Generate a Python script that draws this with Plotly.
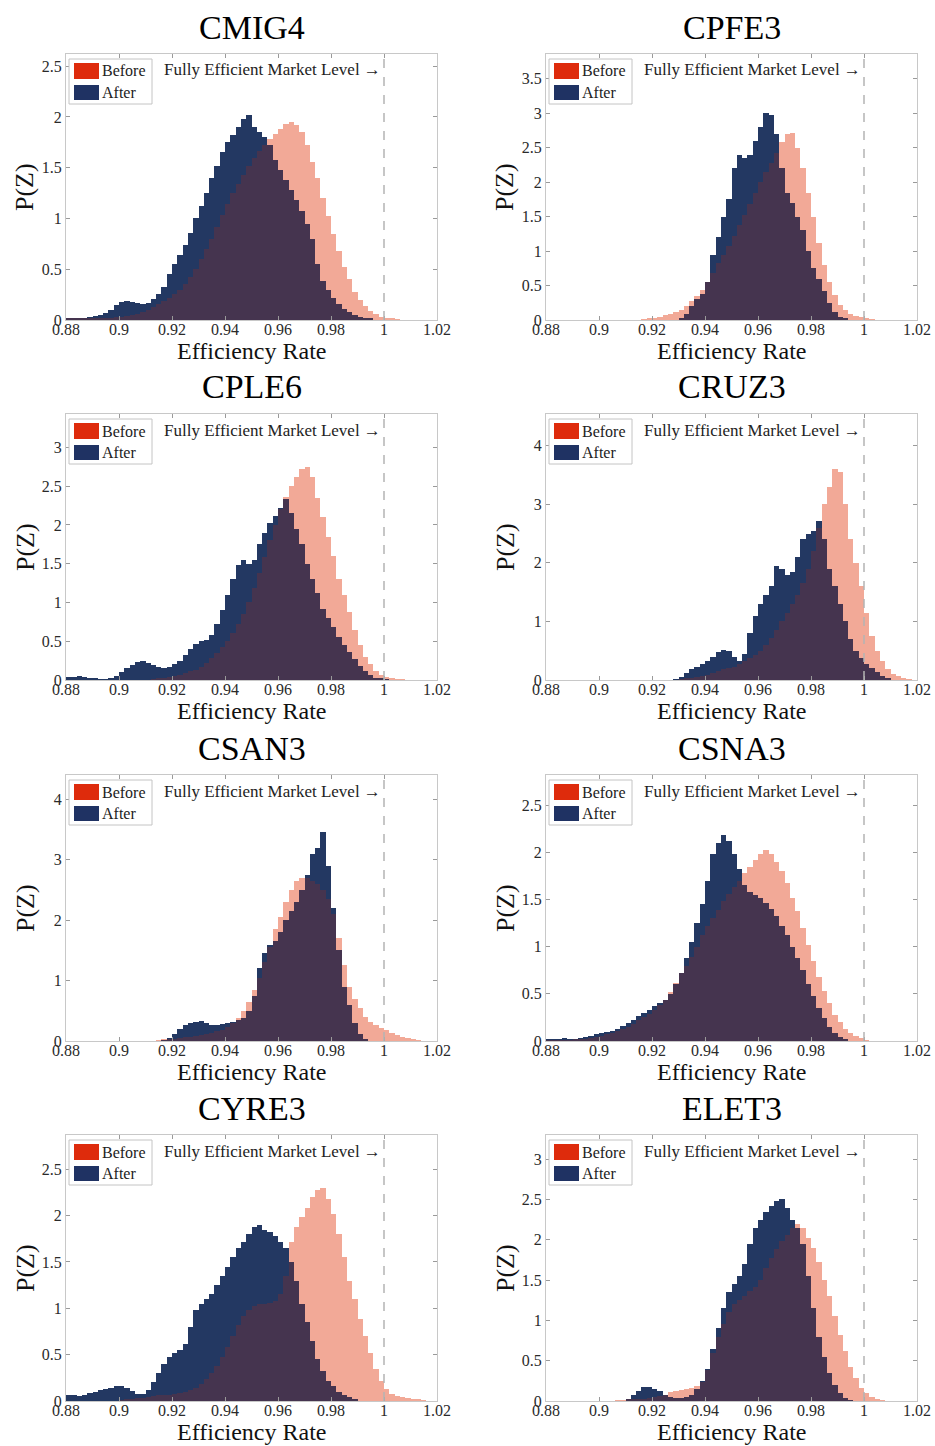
import numpy as np
import plotly.graph_objects as go

# ---------------- data ----------------
BIN_WIDTH = 0.002
FIRST_CENTER = 0.881
N_BINS = 70

TICKERS = ["CMIG4", "CPFE3", "CPLE6", "CRUZ3", "CSAN3", "CSNA3", "CYRE3", "ELET3"]
SERIES_NAMES = ["Before", "After"]

X_TICKS = [0.88, 0.90, 0.92, 0.94, 0.96, 0.98, 1.00, 1.02]
X_TICK_TEXT = ["0.88", "0.9", "0.92", "0.94", "0.96", "0.98", "1", "1.02"]

Y_TOP = [2.62, 3.86, 3.43, 4.54, 4.40, 2.82, 2.87, 3.30]
Y_TICKS = [
    [0, 0.5, 1, 1.5, 2, 2.5],
    [0, 0.5, 1, 1.5, 2, 2.5, 3, 3.5],
    [0, 0.5, 1, 1.5, 2, 2.5, 3],
    [0, 1, 2, 3, 4],
    [0, 1, 2, 3, 4],
    [0, 0.5, 1, 1.5, 2, 2.5],
    [0, 0.5, 1, 1.5, 2, 2.5],
    [0, 0.5, 1, 1.5, 2, 2.5, 3],
]
Y_TICK_TEXT = [[("%g" % v) for v in t] for t in Y_TICKS]

# first bin centre of each listed series (bins are 0.002 wide)
CMIG4_BEFORE_FROM = 0.881
CMIG4_BEFORE = [0.01, 0.01, 0.01, 0.01, 0.01, 0.01, 0.02, 0.02, 0.02, 0.03,
                0.03, 0.04, 0.05, 0.06, 0.08, 0.10, 0.13, 0.16, 0.19, 0.22,
                0.26, 0.30, 0.35, 0.42, 0.50, 0.60, 0.70, 0.80, 0.92, 1.03,
                1.14, 1.25, 1.34, 1.43, 1.52, 1.60, 1.66, 1.72, 1.78, 1.83,
                1.88, 1.93, 1.95, 1.92, 1.85, 1.72, 1.56, 1.40, 1.20, 1.02,
                0.85, 0.68, 0.52, 0.40, 0.28, 0.20, 0.14, 0.09, 0.06, 0.03,
                0.02, 0.01, 0.005]
CMIG4_AFTER_FROM = 0.881
CMIG4_AFTER = [0.01, 0.01, 0.02, 0.02, 0.03, 0.04, 0.05, 0.07, 0.10, 0.15,
               0.18, 0.19, 0.18, 0.17, 0.16, 0.17, 0.21, 0.26, 0.33, 0.45,
               0.55, 0.64, 0.74, 0.86, 1.00, 1.12, 1.25, 1.40, 1.52, 1.65,
               1.75, 1.82, 1.90, 1.98, 2.02, 1.90, 1.85, 1.80, 1.72, 1.58,
               1.48, 1.38, 1.28, 1.18, 1.07, 0.95, 0.80, 0.55, 0.38, 0.30,
               0.22, 0.16, 0.11, 0.08, 0.05, 0.03, 0.02, 0.01]

CPFE3_BEFORE_FROM = 0.917
CPFE3_BEFORE = [0.01, 0.02,
                0.03, 0.05, 0.07, 0.09, 0.11, 0.14, 0.20, 0.28, 0.35, 0.43,
                0.55, 0.68, 0.82, 0.95, 1.08, 1.22, 1.38, 1.53, 1.68, 1.85,
                2.00, 2.15, 2.28, 2.42, 2.58, 2.70, 2.72, 2.50, 2.20, 1.85,
                1.50, 1.12, 0.80, 0.55, 0.36, 0.22, 0.14, 0.09, 0.06, 0.04,
                0.02, 0.01]
CPFE3_AFTER_FROM = 0.931
CPFE3_AFTER = [0.02, 0.08, 0.20, 0.30, 0.38,
               0.55, 0.95, 1.20, 1.50, 1.75, 2.20, 2.40, 2.35, 2.40, 2.60,
               2.80, 3.00, 2.98, 2.70, 2.20, 1.85, 1.70, 1.50, 1.30, 1.00,
               0.75, 0.60, 0.42, 0.25, 0.12, 0.05, 0.02]

CPLE6_BEFORE_FROM = 0.913
CPLE6_BEFORE = [0.01, 0.02, 0.03, 0.04,
                0.05, 0.07, 0.09, 0.11, 0.13, 0.17, 0.22, 0.28, 0.35, 0.42,
                0.50, 0.60, 0.72, 0.85, 1.00, 1.18, 1.38, 1.58, 1.80, 2.00,
                2.20, 2.36, 2.50, 2.62, 2.72, 2.75, 2.62, 2.35, 2.10, 1.85,
                1.60, 1.30, 1.10, 0.88, 0.65, 0.45, 0.30, 0.20, 0.12, 0.07,
                0.04, 0.02, 0.01, 0.01]
CPLE6_AFTER_FROM = 0.881
CPLE6_AFTER = [0.04, 0.04, 0.05, 0.04, 0.03, 0.02, 0.01, 0.01, 0.02, 0.05,
               0.10, 0.15, 0.19, 0.23, 0.25, 0.22, 0.19, 0.17, 0.16, 0.17,
               0.20, 0.25, 0.32, 0.40, 0.46, 0.50, 0.52, 0.58, 0.72, 0.90,
               1.10, 1.30, 1.48, 1.55, 1.50, 1.55, 1.75, 1.90, 2.02, 2.12,
               2.22, 2.34, 2.15, 1.95, 1.75, 1.50, 1.30, 1.12, 0.92, 0.80,
               0.68, 0.55, 0.45, 0.36, 0.27, 0.18, 0.12, 0.07, 0.03, 0.02,
               0.01]

CRUZ3_BEFORE_FROM = 0.931
CRUZ3_BEFORE = [0.01, 0.02, 0.03, 0.05, 0.07,
                0.09, 0.12, 0.15, 0.18, 0.20, 0.23, 0.27, 0.32, 0.38, 0.43,
                0.50, 0.60, 0.72, 0.85, 1.00, 1.15, 1.30, 1.45, 1.65, 1.90,
                2.20, 2.60, 3.00, 3.30, 3.60, 3.55, 3.00, 2.40, 2.00, 1.60,
                1.15, 0.75, 0.50, 0.32, 0.18, 0.10, 0.06, 0.03, 0.01]
CRUZ3_AFTER_FROM = 0.929
CRUZ3_AFTER = [0.01,
               0.05, 0.12, 0.18, 0.22, 0.27,
               0.33, 0.40, 0.48, 0.52, 0.50, 0.40, 0.32, 0.45, 0.80, 1.10,
               1.30, 1.45, 1.60, 1.95, 1.90, 1.80, 1.85, 2.10, 2.40, 2.50,
               2.55, 2.72, 2.40, 1.90, 1.60, 1.30, 1.00, 0.70, 0.50, 0.38,
               0.28, 0.20, 0.14, 0.07, 0.03]

CSAN3_BEFORE_FROM = 0.915
CSAN3_BEFORE = [0.01, 0.02, 0.03,
                0.04, 0.05, 0.06, 0.07, 0.09, 0.10, 0.12, 0.14, 0.16, 0.19,
                0.23, 0.30, 0.38, 0.50, 0.65, 0.85, 1.05, 1.30, 1.55, 1.85,
                2.05, 2.30, 2.50, 2.65, 2.70, 2.70, 2.65, 2.60, 2.50, 2.35,
                2.10, 1.70, 1.25, 0.90, 0.70, 0.55, 0.40, 0.32, 0.27, 0.22,
                0.18, 0.14, 0.10, 0.07, 0.05, 0.03, 0.01]
CSAN3_AFTER_FROM = 0.917
CSAN3_AFTER = [0.01, 0.05,
               0.12, 0.20, 0.27, 0.30, 0.32, 0.33, 0.30, 0.27, 0.26, 0.28,
               0.30, 0.32, 0.34, 0.38, 0.50, 0.75, 1.20, 1.45, 1.58, 1.65,
               1.80, 2.00, 2.15, 2.30, 2.50, 2.75, 3.10, 3.20, 3.45, 2.90,
               2.20, 1.50, 0.90, 0.60, 0.30, 0.12, 0.03]

CSNA3_BEFORE_FROM = 0.881
CSNA3_BEFORE = [0.01, 0.01, 0.01, 0.01, 0.01, 0.02, 0.02, 0.02, 0.03, 0.04,
                0.05, 0.07, 0.09, 0.11, 0.13, 0.15, 0.18, 0.22, 0.25, 0.29,
                0.33, 0.38, 0.44, 0.52, 0.62, 0.72, 0.80, 0.89, 1.00, 1.12,
                1.22, 1.30, 1.39, 1.48, 1.56, 1.63, 1.70, 1.78, 1.85, 1.92,
                1.98, 2.02, 1.98, 1.90, 1.80, 1.68, 1.52, 1.38, 1.20, 1.02,
                0.85, 0.68, 0.53, 0.40, 0.28, 0.20, 0.13, 0.08, 0.05, 0.03,
                0.01]
CSNA3_AFTER_FROM = 0.881
CSNA3_AFTER = [0.02, 0.02, 0.02, 0.03, 0.02, 0.02, 0.03, 0.04, 0.05, 0.07,
               0.09, 0.10, 0.11, 0.13, 0.16, 0.19, 0.22, 0.26, 0.30, 0.33,
               0.37, 0.40, 0.43, 0.50, 0.60, 0.72, 0.88, 1.05, 1.25, 1.45,
               1.70, 1.98, 2.10, 2.18, 2.12, 1.98, 1.82, 1.65, 1.58, 1.55,
               1.52, 1.46, 1.40, 1.32, 1.22, 1.12, 1.00, 0.88, 0.75, 0.60,
               0.48, 0.35, 0.24, 0.15, 0.08, 0.04, 0.02]

CYRE3_BEFORE_FROM = 0.901
CYRE3_BEFORE = [0.01, 0.02, 0.02, 0.03, 0.03, 0.04, 0.05, 0.06, 0.06, 0.07,
                0.08, 0.09, 0.10, 0.12, 0.14, 0.18, 0.24, 0.30, 0.38, 0.47,
                0.58, 0.70, 0.82, 0.92, 0.98, 1.02, 1.05, 1.05, 1.06, 1.08,
                1.15, 1.35, 1.72, 1.88, 1.98, 2.08, 2.20, 2.28, 2.30, 2.18,
                2.02, 1.80, 1.55, 1.30, 1.10, 0.88, 0.70, 0.52, 0.35, 0.22,
                0.13, 0.08, 0.05, 0.04, 0.03, 0.02, 0.02, 0.01]
CYRE3_AFTER_FROM = 0.881
CYRE3_AFTER = [0.07, 0.06, 0.05, 0.07, 0.09, 0.10, 0.12, 0.13, 0.14, 0.16,
               0.16, 0.14, 0.11, 0.08, 0.08, 0.12, 0.20, 0.30, 0.40, 0.47,
               0.52, 0.55, 0.62, 0.80, 0.98, 1.05, 1.10, 1.15, 1.25, 1.35,
               1.45, 1.55, 1.65, 1.72, 1.80, 1.88, 1.90, 1.85, 1.82, 1.78,
               1.72, 1.65, 1.50, 1.30, 1.05, 0.85, 0.65, 0.45, 0.32, 0.22,
               0.16, 0.10, 0.07, 0.04, 0.02]

ELET3_BEFORE_FROM = 0.907
ELET3_BEFORE = [0.01, 0.01, 0.02, 0.02, 0.03, 0.03, 0.04,
                0.05, 0.06, 0.08, 0.11, 0.13, 0.14, 0.15, 0.16, 0.18, 0.24,
                0.38, 0.60, 0.80, 0.95, 1.10, 1.20, 1.25, 1.30, 1.36, 1.42,
                1.50, 1.65, 1.78, 1.88, 1.98, 2.06, 2.15, 2.20, 2.15, 2.02,
                1.90, 1.72, 1.50, 1.30, 1.05, 0.82, 0.62, 0.42, 0.28, 0.16,
                0.10, 0.05, 0.03, 0.01]
ELET3_AFTER_FROM = 0.911
ELET3_AFTER = [0.02, 0.08, 0.13, 0.17, 0.17,
               0.15, 0.12, 0.08, 0.05, 0.04, 0.04, 0.05, 0.08, 0.15, 0.25,
               0.40, 0.65, 0.90, 1.15, 1.35, 1.45, 1.55, 1.70, 1.95, 2.15,
               2.25, 2.35, 2.42, 2.48, 2.50, 2.40, 2.25, 2.15, 1.95, 1.55,
               1.15, 0.80, 0.55, 0.35, 0.20, 0.10, 0.04, 0.01]

BEFORE = [
    (CMIG4_BEFORE_FROM, CMIG4_BEFORE), (CPFE3_BEFORE_FROM, CPFE3_BEFORE),
    (CPLE6_BEFORE_FROM, CPLE6_BEFORE), (CRUZ3_BEFORE_FROM, CRUZ3_BEFORE),
    (CSAN3_BEFORE_FROM, CSAN3_BEFORE), (CSNA3_BEFORE_FROM, CSNA3_BEFORE),
    (CYRE3_BEFORE_FROM, CYRE3_BEFORE), (ELET3_BEFORE_FROM, ELET3_BEFORE),
]
AFTER = [
    (CMIG4_AFTER_FROM, CMIG4_AFTER), (CPFE3_AFTER_FROM, CPFE3_AFTER),
    (CPLE6_AFTER_FROM, CPLE6_AFTER), (CRUZ3_AFTER_FROM, CRUZ3_AFTER),
    (CSAN3_AFTER_FROM, CSAN3_AFTER), (CSNA3_AFTER_FROM, CSNA3_AFTER),
    (CYRE3_AFTER_FROM, CYRE3_AFTER), (ELET3_AFTER_FROM, ELET3_AFTER),
]

# ---------------- styling ----------------
W, H = 935, 1446
SALMON = "#F2A997"
NAVY = "#233862"
PURPLE = "#45344F"
LEG_RED = "#DE2B0C"
LEG_NAVY = "#1F3263"
FONT = "Liberation Serif"

COL_X = [(66, 437), (546, 917)]
ROW_TOP = [54, 414, 775, 1135]
AX_H = 266

centers = FIRST_CENTER + BIN_WIDTH * np.arange(N_BINS)


def padded(start, vals):
    out = np.zeros(N_BINS)
    i0 = int(round((start - FIRST_CENTER) / BIN_WIDTH))
    out[i0:i0 + len(vals)] = vals
    return out


fig = go.Figure()
annotations = []
shapes = []
layout_axes = {}

for i, name in enumerate(TICKERS):
    row, col = divmod(i, 2)
    sfx = "" if i == 0 else str(i + 1)
    xa, ya = "x" + sfx, "y" + sfx
    before = padded(*BEFORE[i])
    after = padded(*AFTER[i])
    overlap = np.minimum(before, after)

    for yvals, color, nm in [(before, SALMON, "Before"), (after, NAVY, "After"),
                             (overlap, PURPLE, "Overlap")]:
        fig.add_trace(go.Bar(x=centers, y=yvals, width=BIN_WIDTH, marker_color=color,
                             marker_line_width=0, xaxis=xa, yaxis=ya, name=nm,
                             showlegend=False, hoverinfo="skip"))

    x0p, x1p = COL_X[col]
    top = ROW_TOP[row]
    bot = top + AX_H
    xdom = [x0p / W, x1p / W]
    ydom = [1 - bot / H, 1 - top / H]

    axis_common = dict(showgrid=False, zeroline=False, showline=True, linecolor="#c8c8c8",
                       linewidth=1, mirror="ticks", ticks="inside", ticklen=4,
                       tickcolor="#9a9a9a", automargin=False,
                       tickfont=dict(family=FONT, size=16, color="#2a2a2a"))
    layout_axes["xaxis" + sfx] = dict(domain=xdom, anchor=ya, range=[0.88, 1.02],
                                      tickvals=X_TICKS, ticktext=X_TICK_TEXT,
                                      ticklabelstandoff=-5, **axis_common)
    layout_axes["yaxis" + sfx] = dict(domain=ydom, anchor=xa, range=[0, Y_TOP[i]],
                                      tickvals=Y_TICKS[i], ticktext=Y_TICK_TEXT[i],
                                      **axis_common)

    xmid = (x0p + x1p) / 2 / W
    annotations.append(dict(text=name, x=xmid, y=1 - (top - 27) / H, xref="paper", yref="paper",
                            showarrow=False, xanchor="center", yanchor="middle",
                            font=dict(family=FONT, size=34, color="black")))
    annotations.append(dict(text="Efficiency Rate", x=xmid, y=1 - (bot + 30.5) / H,
                            xref="paper", yref="paper", showarrow=False, xanchor="center",
                            yanchor="middle", borderpad=0,
                            font=dict(family=FONT, size=24, color="#111")))
    annotations.append(dict(text="P(Z)", x=(x0p - 41) / W, y=1 - (top + AX_H / 2) / H,
                            xref="paper", yref="paper", showarrow=False, textangle=-90,
                            xanchor="center", yanchor="middle",
                            font=dict(family=FONT, size=26, color="#111")))
    annotations.append(dict(text="Fully Efficient Market Level \u2192", x=1.0, xref=xa,
                            y=1 - 16 / AX_H, yref=ya + " domain", xanchor="right", xshift=-1,
                            yanchor="middle", showarrow=False,
                            font=dict(family=FONT, size=17, color="#222")))
    shapes.append(dict(type="line", x0=1.0, x1=1.0, xref=xa, y0=0, y1=1, yref=ya + " domain",
                       line=dict(color="#b4b4b4", width=1.5, dash="dash"), layer="above"))

    def dx(px):
        return px / (x1p - x0p)

    def dy(px):
        return 1 - px / AX_H

    shapes.append(dict(type="rect", xref=xa + " domain", yref=ya + " domain",
                       x0=dx(3), x1=dx(86), y0=dy(50), y1=dy(5),
                       line=dict(color="#c4c4c4", width=1), fillcolor="white", layer="above"))
    shapes.append(dict(type="rect", xref=xa + " domain", yref=ya + " domain",
                       x0=dx(8), x1=dx(33), y0=dy(25), y1=dy(9),
                       line=dict(width=0), fillcolor=LEG_RED, layer="above"))
    shapes.append(dict(type="rect", xref=xa + " domain", yref=ya + " domain",
                       x0=dx(8), x1=dx(33), y0=dy(46), y1=dy(31),
                       line=dict(width=0), fillcolor=LEG_NAVY, layer="above"))
    for txt, ypx in [(SERIES_NAMES[0], 17), (SERIES_NAMES[1], 38.5)]:
        annotations.append(dict(text=txt, xref=xa + " domain", yref=ya + " domain",
                                x=dx(34), y=dy(ypx), xanchor="left", yanchor="middle",
                                showarrow=False,
                                font=dict(family=FONT, size=16, color="#222")))

fig.update_layout(
    width=W, height=H, margin=dict(l=0, r=0, t=0, b=0, pad=0), autosize=False,
    paper_bgcolor="white", plot_bgcolor="white",
    barmode="overlay", bargap=0, showlegend=False,
    annotations=annotations, shapes=shapes, **layout_axes,
)

fig.write_html("out.html", config={"responsive": False, "displayModeBar": False},
               post_script="document.body.style.margin='0';document.body.style.overflow='hidden';")
